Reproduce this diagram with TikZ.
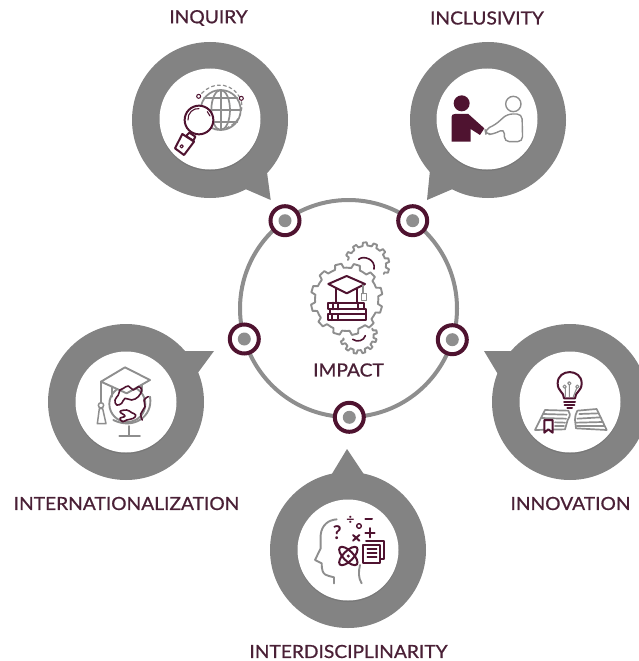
\documentclass[tikz,border=0pt]{standalone}
\usepackage{fontspec}
\setmainfont{Lato}
\newfontfamily\labf{Lato}[FakeBold=0.8,FakeStretch=1.06]
\usetikzlibrary{calc}
\definecolor{maroon}{HTML}{4F1330}
\definecolor{txt}{HTML}{4A2036}
\definecolor{bub}{HTML}{838383}
\definecolor{ico}{HTML}{8E8E8E}
\tikzset{
 bubble/.style={circle,fill=bub,minimum size=156pt,inner sep=0pt},
 hole/.style={circle,fill=white,minimum size=101pt,inner sep=0pt},
 tail/.style={fill=bub},
 ringline/.style={draw=ico,line width=4pt},
 port/.style={circle,draw=maroon,fill=white,line width=4pt,minimum size=29pt,inner sep=0pt},
 dot/.style={circle,fill=ico,minimum size=13pt,inner sep=0pt},
 lab/.style={text=txt,font=\labf\fontsize{18.1}{20}\selectfont,inner sep=0pt},
 mr/.style={draw=maroon,line width=2pt,line join=round,line cap=round},
 gr/.style={draw=ico,line width=1.9pt,line join=round,line cap=round},
 sym/.style={text=maroon,inner sep=0pt,font=\bfseries\fontsize{13}{13}\selectfont},
 zoomed/.style={x=0.33333pt,y=-0.33333pt},
}
\newcommand{\gearpart}[7]{% cx cy rin rout pitch a0 lastindex
 \begin{scope}[shift={(#1,#2)}]
 \draw[gr,fill=white] (#6:#3) \foreach \i in {0,...,#7}{
   -- ({#6+\i*#5+.28*#5}:#3) -- ({#6+\i*#5+.38*#5}:#4) -- ({#6+\i*#5+.72*#5}:#4)
   -- ({#6+\i*#5+.82*#5}:#3) -- ({#6+\i*#5+#5}:#3)};
 \end{scope}}
\begin{document}
\begin{tikzpicture}[x=1pt,y=-1pt]
\useasboundingbox (0,0) rectangle (639,661);
% tails
\fill[tail] (266.7,170) -- (270.7,200) -- (243,188) -- cycle;
\fill[tail] (430,170) -- (427,200) -- (455,188) -- cycle;
\fill[tail] (184,351) -- (214,351) -- (197,374) -- cycle;
\fill[tail] (512,351) -- (484,351) -- (499,376) -- cycle;
\fill[tail] (327,482) -- (347,449) -- (369,482) -- cycle;
% bubbles
\node[bubble] (inq) at (210,120) {};
\node[bubble] (inc) at (488,120) {};
\node[bubble] (int) at (126,402) {};
\node[bubble] (inn) at (570,402) {};
\node[bubble] (dis) at (348,550) {};
\fill[black!60,opacity=.35] (210,120.5) circle (50.5);
\fill[black!60,opacity=.35] (487,120.5) circle (50.5);
\fill[black!60,opacity=.35] (126,403.5) circle (50.5);
\fill[black!60,opacity=.35] (570,403.5) circle (50.5);
\fill[black!60,opacity=.35] (348,551.5) circle (50.5);
\node[hole] (hinq) at (210,119) {};
\node[hole] (hinc) at (487,119) {};
\node[hole] (hint) at (126,402) {};
\node[hole] (hinn) at (570,402) {};
\node[hole] (hdis) at (348,550) {};
% ring
\node[circle,ringline,minimum size=217pt,inner sep=0pt] (ring) at (348.5,308.5) {};
\foreach \nm/\x/\y in {p1/285/220.7,p2/412.7/220.7,p3/244.3/339,p4/452.3/339.7,p5/349.3/417.3}{
  \node[port] (\nm) at (\x,\y) {};
  \node[dot] (\nm d) at (\x,\y) {};
}
% labels
\node[lab] (l1) at (208.5,18) {INQUIRY};
\node[lab] (l2) at (487,18) {INCLUSIVITY};
\node[lab] (l3) at (126.5,503.5) {INTERNATIONALIZATION};
\node[lab] (l4) at (570.5,503.5) {INNOVATION};
\node[lab] (l5) at (348.5,651.5) {INTERDISCIPLINARITY};
\node[lab] (l6) at (348.5,370) {IMPACT};
% --- inquiry icon
\begin{scope}[shift={(130,30)},zoomed]
 \draw[gr,line width=1.7pt] (272,240) circle[x radius=60,y radius=60];
 \draw[gr,line width=1.7pt] (272,240) ellipse[x radius=28,y radius=60];
 \draw[gr,line width=1.7pt] (272,180) -- (272,300);
 \draw[gr,line width=1.7pt] (222,205) -- (322,205) (212,240) -- (332,240) (222,275) -- (322,275);
 \draw[gr,line width=1.2pt,dashed] (215,190) .. controls (255,150) and (310,160) .. (332,208);
 \draw[gr,line width=1.2pt,dashed] (334,215) .. controls (345,260) and (300,310) .. (245,297);
 \draw[draw=maroon,line width=1pt,fill=white] (206,199) circle[radius=6];
 \draw[draw=maroon,line width=1pt,fill=white] (334,205) circle[radius=6];
 \draw[mr,fill=white] (207,270) circle[radius=43];
 \draw[mr,line width=1.1pt] (174,270) .. controls (172,250) and (190,233) .. (207,236);
 \draw[mr,line width=1.1pt] (232,245) -- (240,258);
 \draw[mr,fill=white] (178,308) -- (196,320) -- (190,332) -- (168,318) -- cycle;
 \draw[mr,fill=white] (157,312) -- (192,335) -- (162,375) -- (135,355) -- cycle;
 \draw[mr,line width=1.1pt] (155,349) circle[radius=5];
\end{scope}
% --- inclusivity icon
\begin{scope}[shift={(400,30)},zoomed]
 \fill[maroon] (185,220) circle[radius=24];
 \fill[maroon] (155,335) -- (155,260) .. controls (155,255) and (158,252) .. (165,252) -- (205,252) -- (253,295) -- (240,315) -- (212,297) -- (212,335) -- cycle;
 \draw[gr,line width=1.4pt] (340,222) circle[radius=23];
 \draw[gr,line width=1.4pt,rounded corners=5pt] (313,335) -- (313,296) -- (282,312) -- (258,314) -- (255,298) -- (285,285) -- (322,252) -- (366,252) -- (368,335) -- cycle;
\end{scope}
% --- impact icon
\begin{scope}[shift={(270,220)},zoomed]
 \gearpart{290}{135}{58}{68}{27.5}{195}{6}
 \gearpart{265}{345}{46}{56}{27.5}{-25}{6}
 \draw[mr,line width=1.6pt] (266,118) .. controls (280,105) and (318,118) .. (312,147);
 \draw[mr,line width=1.6pt] (248,358) .. controls (262,368) and (282,362) .. (286,347);
 \gearpart{230}{238}{95}{108}{30}{0}{11}
 \draw[mr,fill=white] (175,192) -- (230,168) -- (285,192) -- (230,220) -- cycle;
 \draw[mr] (197,206) -- (197,247) (262,206) -- (262,247);
 \draw[gr] (278,196) -- (278,220);
 \draw[gr,line width=1.4pt] (274,220) rectangle (290,241);
 \draw[mr] (173,248) rectangle (282,268);
 \draw[mr] (180,268) rectangle (287,283);
 \draw[mr] (173,283) rectangle (287,300);
 \draw[mr] (190,248) -- (190,268) (205,248) -- (205,268) (265,248) -- (265,268);
 \draw[mr] (185,283) -- (185,300) (205,283) -- (205,300);
\end{scope}
% --- internationalization icon
\begin{scope}[shift={(70,340)},zoomed]
 \draw[gr] (172,192) circle[radius=54];
 \draw[gr,fill=white] (93,125) -- (165,82) -- (240,120) -- (170,160) -- cycle;
 \draw[gr] (125,140) -- (125,170) (215,135) -- (215,155);
 \draw[gr] (93,125) -- (93,188);
 \draw[gr,line width=1.5pt] (93,196) circle[radius=8];
 \draw[gr,line width=1.5pt] (88,206) -- (98,206) -- (108,251) -- (82,251) -- cycle;
 \draw[gr] (240,170) .. controls (250,230) and (190,270) .. (130,240);
 \draw[gr] (178,258) -- (178,288) (148,288) -- (210,288);
 \draw[mr,line width=1.6pt] plot[smooth cycle,tension=.7] coordinates {(135,180) (140,195) (155,190) (165,175) (185,180) (205,170) (215,150) (205,140) (190,150) (175,138) (160,145) (150,150) (145,165)};
 \draw[mr,line width=1.6pt] plot[smooth cycle,tension=.7] coordinates {(150,215) (170,210) (185,218) (197,225) (190,235) (170,240) (158,245) (150,235) (165,228)};
 \draw[mr,line width=1.6pt] plot[smooth,tension=.7] coordinates {(235,170) (222,180) (225,200) (212,222) (217,240)};
\end{scope}
% --- innovation icon
\begin{scope}[shift={(490,340)},zoomed]
 \draw[mr] (222,175) .. controls (222,155) and (203,155) .. (203,130) .. controls (203,85) and (275,85) .. (275,130) .. controls (275,155) and (255,155) .. (255,175) -- cycle;
 \draw[mr] (222,185) -- (255,185) (224,195) -- (253,195) (232,205) -- (246,205);
 \draw[gr,line width=1.1pt] (226,170) -- (226,145) (238,170) -- (238,135) (250,170) -- (260,145);
 \draw[gr,line width=1.1pt] (224,140) circle[radius=5] (238,130) circle[radius=5] (262,140) circle[radius=5];
 \draw[gr,line width=1.7pt] (165,210) -- (235,212) .. controls (240,220) and (243,225) .. (233,240) -- (225,268) -- (135,270) -- cycle;
 \draw[gr,line width=1.7pt] (262,212) -- (320,207) -- (350,270) -- (258,265) -- (255,240) .. controls (255,228) and (258,220) .. (262,212);
 \draw[gr,line width=1.7pt] (160,222) -- (230,224) (155,234) -- (228,236) (195,247) -- (225,248) (195,258) -- (222,258);
 \draw[gr,line width=1.7pt] (268,222) -- (325,220) (262,236) -- (332,232) (260,248) -- (338,246) (260,258) -- (342,258);
 \draw[mr,fill=white] (163,240) -- (188,240) -- (188,278) -- (175,268) -- (163,278) -- cycle;
\end{scope}
% --- interdisciplinarity icon
\begin{scope}[shift={(280,480)},zoomed]
 \draw[gr] (162,310) -- (162,292) .. controls (140,285) and (125,290) .. (125,250) -- (105,240) -- (122,205) -- (122,165) .. controls (125,135) and (145,120) .. (170,118);
 \draw[gr] (240,255) .. controls (235,275) and (235,295) .. (245,310);
 \node[sym,font=\bfseries\fontsize{19}{19}\selectfont] (q) at (172,157) {?};
 \node[sym,font=\bfseries\fontsize{14}{14}\selectfont] (dv) at (211,122) {÷};
 \draw[mr,line width=1.4pt] (237,138) circle[radius=7];
 \draw[mr,line width=2pt] (256,116) -- (276,116);
 \draw[mr,line width=2pt] (256,158) -- (284,158) (270,144) -- (270,172);
 \draw[mr,line width=2pt] (219,165) -- (238,182) (238,165) -- (219,182);
 \foreach \r in {45,-45}{
   \draw[mr] (205,228) ellipse[x radius=36,y radius=15,rotate=\r];}
 \fill[maroon] (205,228) circle[radius=5];
 \draw[mr] (258,183) -- (312,183) -- (312,238) -- (300,238);
 \draw[mr] (250,195) rectangle (300,248);
 \draw[mr,line width=1.5pt] (262,207) -- (290,207) (262,219) -- (290,219) (262,231) -- (290,231);
\end{scope}
\end{tikzpicture}
\end{document}
